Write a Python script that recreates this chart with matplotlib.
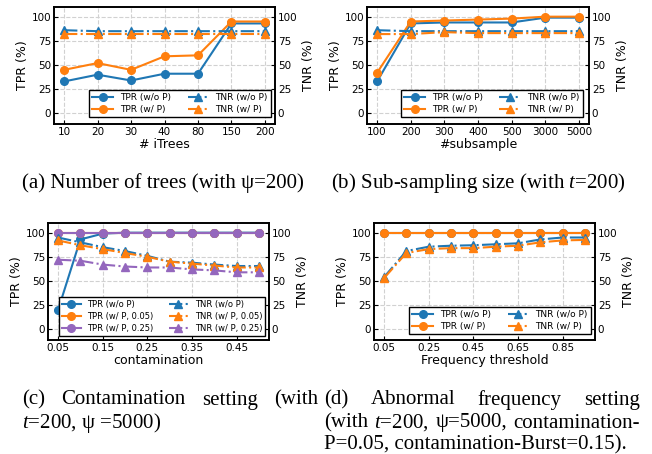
import matplotlib
matplotlib.use("Agg")
import matplotlib.pyplot as plt

plt.rcParams["font.family"] = "DejaVu Sans"
plt.rcParams["mathtext.fontset"] = "custom"
plt.rcParams["mathtext.rm"] = "Liberation Serif"
plt.rcParams["mathtext.it"] = "Liberation Serif:italic"

blue, orange, purple = "#1f77b4", "#ff7f0e", "#9467bd"

# (a) number of trees
trees = ["10", "20", "30", "40", "80", "150", "200"]
a_tpr_wo = [33, 40, 34, 41, 41, 93, 93]
a_tpr_w = [45, 52, 45, 59, 60, 95, 95]
a_tnr_wo = [86, 85, 85, 85, 85, 85, 85]
a_tnr_w = [82, 82, 82, 82, 82, 82, 82]

# (b) sub-sampling size
subsample = ["100", "200", "300", "400", "500", "3000", "5000"]
b_tpr_wo = [33, 93, 94, 94, 94, 99, 99]
b_tpr_w = [42, 95, 96, 97, 98, 100, 100]
b_tnr_wo = [86, 85, 85, 85, 85, 85, 85]
b_tnr_w = [82, 82, 84, 83, 83, 83, 83]

# (c) contamination
contam = [0.05, 0.10, 0.15, 0.20, 0.25, 0.30, 0.35, 0.40, 0.45, 0.50]
c_tpr_wo = [20, 93, 99, 100, 100, 100, 100, 100, 100, 100]
c_tpr_w05 = [100, 100, 100, 100, 100, 100, 100, 100, 100, 100]
c_tpr_w25 = [100, 100, 100, 100, 100, 100, 100, 100, 100, 100]
c_tnr_wo = [95, 90, 85, 81, 76, 70, 69, 67, 65.5, 65.5]
c_tnr_w05 = [92, 87, 83, 79, 75, 70, 68, 66, 64, 64]
c_tnr_w25 = [72, 71, 67, 65, 64, 64, 62, 61, 59, 59]

# (d) frequency threshold
freq = [0.05, 0.15, 0.25, 0.35, 0.45, 0.55, 0.65, 0.75, 0.85, 0.95]
d_tpr_wo = [100, 100, 100, 100, 100, 100, 100, 100, 100, 100]
d_tpr_w = [100, 100, 100, 100, 100, 100, 100, 100, 100, 100]
d_tnr_wo = [54, 81, 85.5, 86.5, 87, 88, 89, 93, 95, 95]
d_tnr_w = [53, 79, 83, 84, 84, 85.5, 86.5, 90, 92, 92.5]

fig = plt.figure(figsize=(6.52, 4.54), dpi=100)
W, H = 652, 454


def make_axes(left, top, width=221, height=117):
    ax = fig.add_axes([left / W, 1 - (top + height) / H, width / W, height / H])
    ax2 = ax.twinx()
    for a in (ax, ax2):
        a.set_ylim(-11, 110)
        a.set_yticks([0, 25, 50, 75, 100])
        a.tick_params(direction="in", labelsize=7.5, length=3, pad=2)
        for s in a.spines.values():
            s.set_linewidth(1.2)
    ax.grid(True, linestyle="--", color="0.82", linewidth=0.8)
    ax.set_ylabel("TPR (%)", fontsize=9, labelpad=2)
    ax2.set_ylabel("TNR (%)", fontsize=9, labelpad=3)
    return ax, ax2


def draw(ax, ax2, x, tpr, tnr, colors, labels, legend_anchor, legend_size):
    handles = []
    for y, c, lab in zip(tpr, colors, labels):
        h, = ax.plot(x, y, "-o", color=c, lw=1.5, ms=5.5, label="TPR " + lab)
        handles.append(h)
    for y, c, lab in zip(tnr, colors, labels):
        h, = ax2.plot(x, y, "-.^", color=c, lw=1.5, ms=5.5, label="TNR " + lab)
        handles.append(h)
    leg = ax2.legend(handles=handles, ncol=2, loc="lower right",
                     bbox_to_anchor=legend_anchor, borderaxespad=0,
                     fontsize=legend_size, fancybox=False, framealpha=1,
                     edgecolor="black", handlelength=2.3, columnspacing=1.8,
                     labelspacing=0.35, borderpad=0.35)
    leg.get_frame().set_linewidth(1.0)


# (a)
ax, ax2 = make_axes(54, 7)
xa = list(range(len(trees)))
draw(ax, ax2, xa, [a_tpr_wo, a_tpr_w], [a_tnr_wo, a_tnr_w], [blue, orange],
     ["(w/o P)", "(w/ P)"], (0.982, 0.06), 6.5)
ax.set_xticks(xa)
ax.set_xticklabels(trees)
ax.set_xlabel("# iTrees", fontsize=9, labelpad=1)

# (b)
ax, ax2 = make_axes(367, 7, width=222)
xb = list(range(len(subsample)))
draw(ax, ax2, xb, [b_tpr_wo, b_tpr_w], [b_tnr_wo, b_tnr_w], [blue, orange],
     ["(w/o P)", "(w/ P)"], (0.973, 0.06), 6.5)
ax.set_xticks(xb)
ax.set_xticklabels(subsample)
ax.set_xlabel("#subsample", fontsize=9, labelpad=1)

# (c)
ax, ax2 = make_axes(48, 223)
draw(ax, ax2, contam, [c_tpr_wo, c_tpr_w05, c_tpr_w25],
     [c_tnr_wo, c_tnr_w05, c_tnr_w25], [blue, orange, purple],
     ["(w/o P)", "(w/ P, 0.05)", "(w/ P, 0.25)"], (0.982, 0.034), 6)
ax.set_xticks([0.05, 0.15, 0.25, 0.35, 0.45])
ax.set_xlabel("contamination", fontsize=9, labelpad=1)

# (d)
ax, ax2 = make_axes(374, 223)
draw(ax, ax2, freq, [d_tpr_wo, d_tpr_w], [d_tnr_wo, d_tnr_w], [blue, orange],
     ["(w/o P)", "(w/ P)"], (0.982, 0.05), 6.5)
ax.set_xticks([0.05, 0.25, 0.45, 0.65, 0.85])
ax.set_xlabel("Frequency threshold", fontsize=9, labelpad=1)

# captions
cap = dict(family="Liberation Serif", fontsize=15, va="center")
fig.text(22 / W, 1 - 183 / H, "(a) Number of trees (with \u03c8=200)", **cap)
fig.text(331 / W, 1 - 183 / H, "(b) Sub-sampling size (with $t$=200)", **cap)

renderer = fig.canvas.get_renderer()


def justified(words, x0, x1, y):
    texts = [fig.text(0, 1 - y / H, w, **cap) for w in words]
    widths = [t.get_window_extent(renderer).width for t in texts]
    gap = (x1 - x0 - sum(widths)) / (len(words) - 1)
    x = x0
    for t, w in zip(texts, widths):
        t.set_x(x / W)
        x += w + gap


justified(["(c)", "Contamination", "setting", "(with"], 22, 318, 400)
fig.text(22 / W, 1 - 423 / H, "$t$=200, \u03c8 =5000)", **cap)
justified(["(d)", "Abnormal", "frequency", "setting"], 324, 640, 400)
justified(["(with", "$t$=200,", "\u03c8=5000,", "contamination-"], 324, 640, 423)
fig.text(324 / W, 1 - 445 / H, "P=0.05, contamination-Burst=0.15).", **cap)

fig.savefig("out.png", dpi=100)
